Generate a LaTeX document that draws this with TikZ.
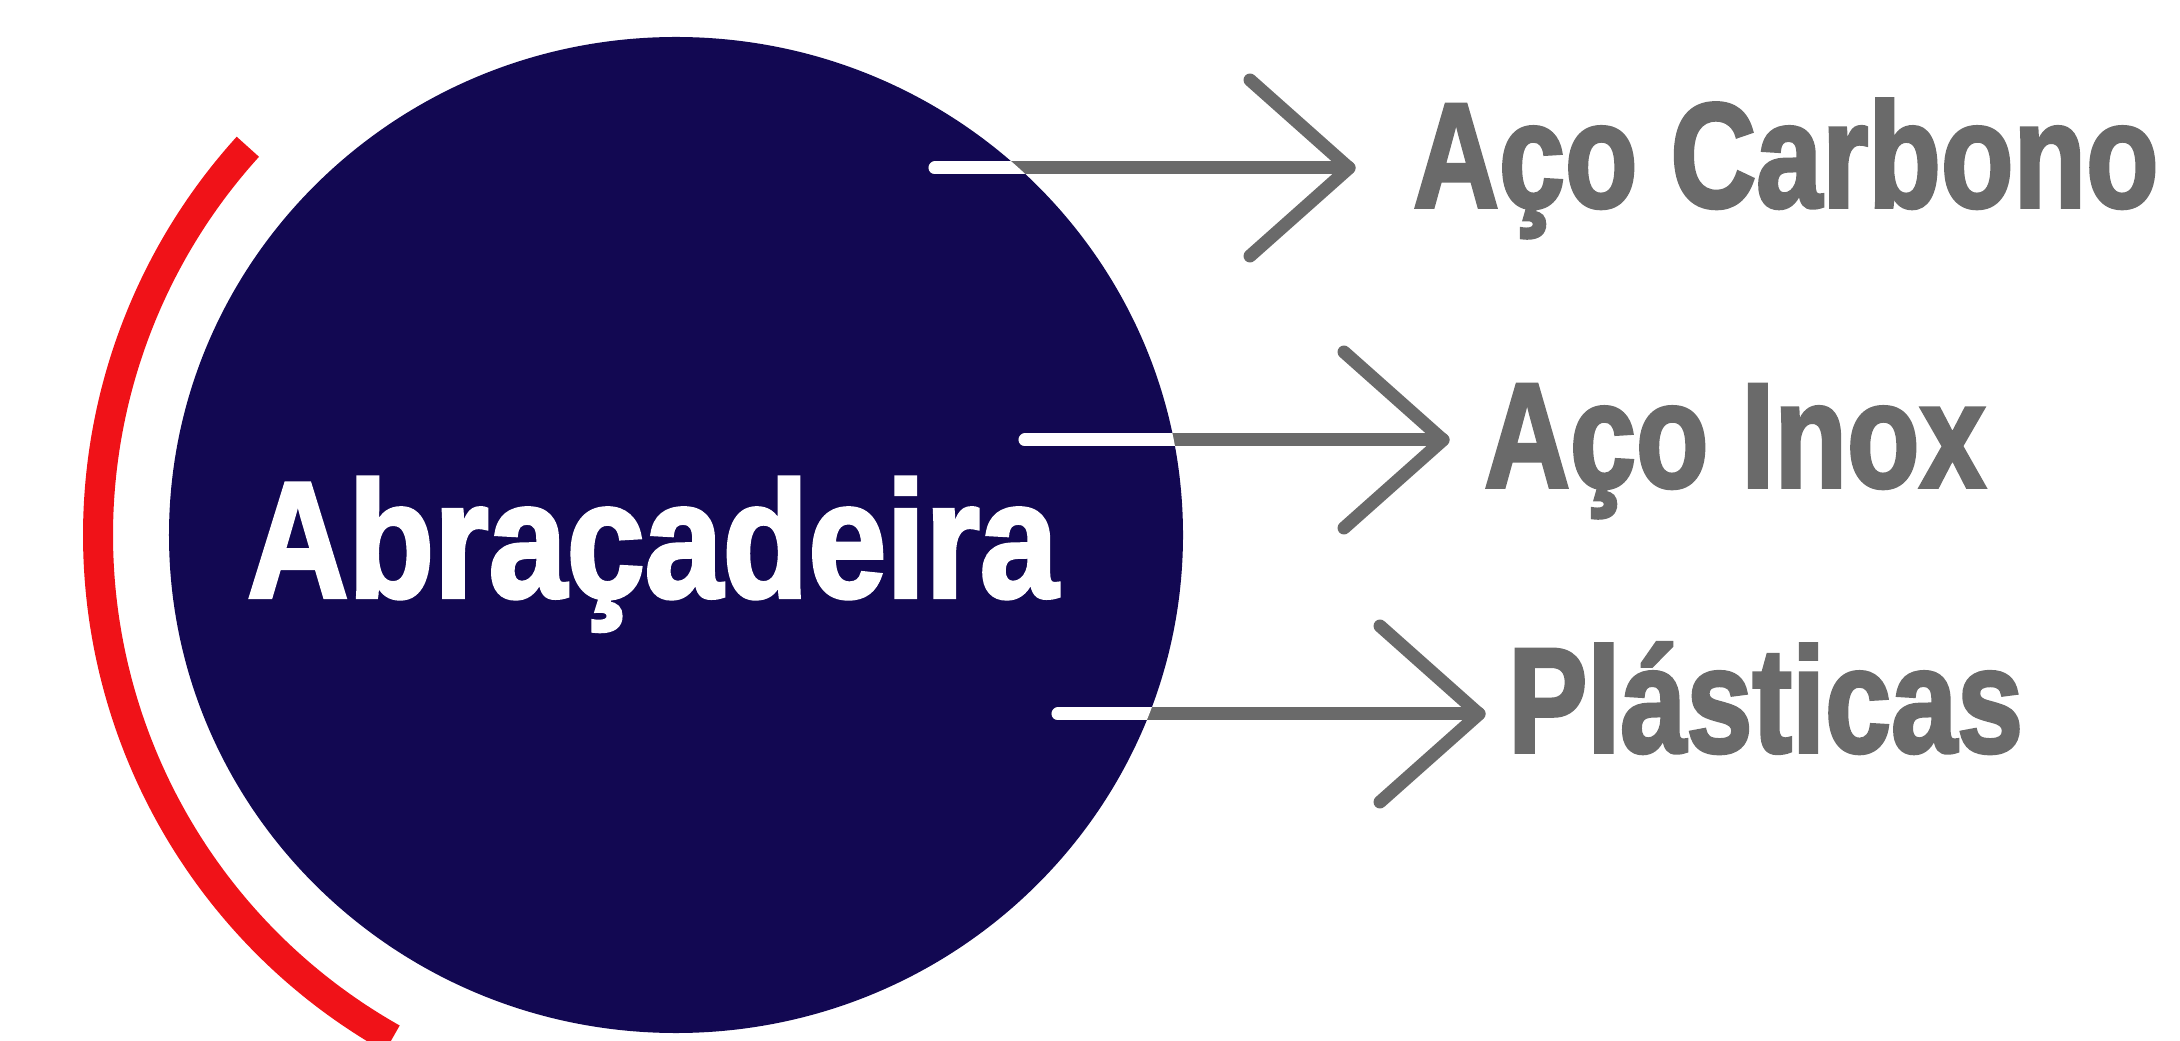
\documentclass[tikz,border=0pt]{standalone}
\usepackage{fontspec}
\setmainfont{Liberation Sans}
\newfontfamily\heavyfont{Liberation Sans Bold}[FakeBold=2.5]
\usetikzlibrary{shapes.geometric}
\definecolor{navy}{RGB}{18,8,82}
\definecolor{clampred}{RGB}{240,18,24}
\definecolor{textgray}{RGB}{106,106,106}
\begin{document}
\begin{tikzpicture}[x=1bp,y=1bp,
  gline/.style={draw=textgray,line width=13bp,line cap=round,line join=round},
  wline/.style={draw=white,line width=13bp,line cap=round},
  graylabel/.style={anchor=base west,inner sep=0pt,text=textgray,font=\heavyfont\fontsize{149bp}{149bp}\selectfont},
  mainlabel/.style={anchor=base west,inner sep=0pt,text=white,font=\heavyfont\fontsize{165bp}{165bp}\selectfont}]
\useasboundingbox (0,0) rectangle (2180,1040);
% main disc
\node[ellipse,fill=navy,minimum width=1014bp,minimum height=996bp,inner sep=0pt] (c) at (676,505) {};
% red arc
\draw[clampred,line width=30bp] (c.center) ++(137.8:578) arc[start angle=137.8,end angle=240.6,radius=578];
% title
\node[mainlabel] (title) at (247,443) {\scalebox{0.85}[1]{Abraçadeira}};
% targets
\node[graylabel] (l1) at (1413,833) {\scalebox{0.797}[1]{Aço Carbono}};
\node[graylabel] (l2) at (1484,553) {\scalebox{0.797}[1]{Aço Inox}};
\node[graylabel] (l3) at (1508,288) {\scalebox{0.797}[1]{Plásticas}};
% connectors
\coordinate (s1) at (935,872);  \coordinate (t1) at (1349,872);
\coordinate (s2) at (1025,600); \coordinate (t2) at (1443,600);
\coordinate (s3) at (1058,326); \coordinate (t3) at (1479,326);
\foreach \i in {1,2,3}{
  \draw[gline] (s\i) -- (t\i);
  \draw[gline] (t\i) ++(-99,88) -- (t\i) -- ++(-99,-88);
}
\begin{scope}
  \clip (c.center) ellipse[x radius=507,y radius=498];
  \foreach \i in {1,2,3}{\draw[wline] (s\i) -- (t\i);}
\end{scope}
\end{tikzpicture}
\end{document}
